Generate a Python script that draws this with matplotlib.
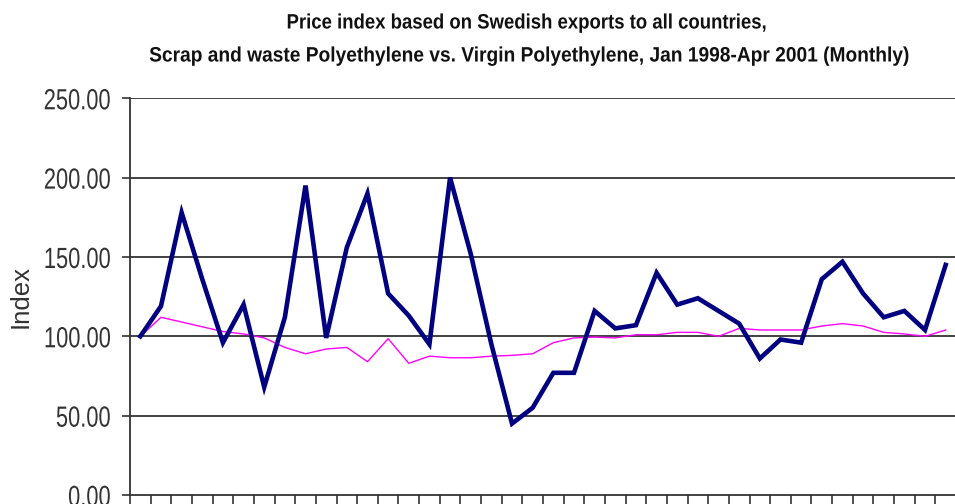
import numpy as np
import matplotlib
matplotlib.use('Agg')
import matplotlib.pyplot as plt
import matplotlib.patheffects as pe
from matplotlib.transforms import Affine2D

# monthly index, Jan 1998 - Apr 2001 (Jan 1998 = 100)
scrap = [100, 119, 178, 136, 96, 120, 68, 112, 195, 99,
         156, 190, 127, 113, 95, 200, 152, 95, 45, 55,
         77, 77, 116, 105, 107, 140, 120, 124, 116, 108,
         86, 98, 96, 136, 147, 127, 112, 116, 104, 145]
virgin = [100, 112, 109, 106, 103, 101.5, 99, 93, 89, 92,
          93, 84, 98.5, 83, 87.5, 86.5, 86.5, 87.5, 88, 89,
          96, 99, 99.5, 99, 101, 101, 102.5, 102.5, 100, 105,
          104, 104, 104, 106.5, 108, 106.5, 102.5, 101.5, 100, 104]
yticks = [0, 50, 100, 150, 200, 250]
title1 = 'Price index based on Swedish exports to all countries,'
title2 = 'Scrap and waste Polyethylene vs. Virgin Polyethylene, Jan 1998-Apr 2001 (Monthly)'


# no Arial Narrow here, so squeeze the text paths sideways
class Squeeze(pe.AbstractPathEffect):
    def __init__(self, sx, anchor=0.5):
        super().__init__()
        self.sx = sx
        self.anchor = anchor

    def draw_path(self, renderer, gc, tpath, affine, rgbFace=None):
        ext = tpath.get_extents()
        x0 = ext.x0 + self.anchor * (ext.x1 - ext.x0)
        t = Affine2D().translate(-x0, 0).scale(self.sx, 1).translate(x0, 0) + affine
        renderer.draw_path(gc, tpath, t, rgbFace)


plt.rcParams['font.family'] = ['Liberation Sans', 'DejaVu Sans']

fig = plt.figure(figsize=(9.55, 5.04), dpi=100)
ax = fig.add_axes([130/955, 9/504, 826/955, 396.7/504])

x = np.arange(len(scrap))
ax.plot(x, virgin, color='#FF00FF', lw=1.0, zorder=3)
ax.plot(x, scrap, color='#000080', lw=3.3, zorder=4, solid_joinstyle='miter')

ax.set_xlim(-0.5, len(scrap) - 0.5)
ax.set_ylim(0, 250)
ax.set_yticks(yticks)
ax.set_yticklabels(['%.2f' % v for v in yticks], fontsize=21, color='#333333')
for lbl in ax.get_yticklabels():
    lbl.set_path_effects([Squeeze(0.75, 1.0)])
ax.set_xticks(np.arange(-0.5, len(scrap), 1.0))
ax.set_xticklabels([])
ax.tick_params(axis='y', length=6, width=1.2, color='#333333', pad=8)
ax.tick_params(axis='x', length=9, width=1.2, color='#333333', direction='out')
for yv in yticks[1:]:
    ax.axhline(yv, color='#333333', lw=1.3, zorder=1)
for s in ['top', 'right']:
    ax.spines[s].set_visible(False)
for s in ['left', 'bottom']:
    ax.spines[s].set_color('#333333')
    ax.spines[s].set_linewidth(1.3)

fig.text(21/955, 1 - 296/504, 'Index', rotation=90, ha='center', va='center',
         fontsize=18.5, color='#333333')

t1 = fig.text(528/955, 1 - 23/504, title1, ha='center', va='center',
              fontsize=15, fontweight='bold', color='#111111')
t2 = fig.text(531/955, 1 - 56/504, title2, ha='center', va='center',
              fontsize=15, fontweight='bold', color='#111111')
t1.set_path_effects([Squeeze(0.89)])
t2.set_path_effects([Squeeze(0.92)])

fig.savefig('out.png', dpi=100)
